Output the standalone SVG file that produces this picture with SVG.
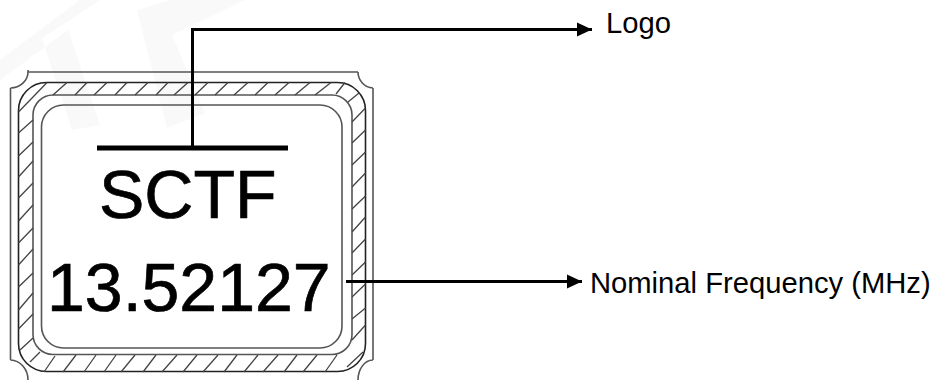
<svg xmlns="http://www.w3.org/2000/svg" width="947" height="380" viewBox="0 0 947 380">
<style>
.o{fill:none;stroke:#555;stroke-width:1.6}
.d{fill:none;stroke:#222;stroke-width:1.6}
.h{fill:none;stroke:#444;stroke-width:1.3}
.c{fill:none;stroke:#000;stroke-width:3}
text{font-family:"Liberation Sans",Arial,sans-serif;fill:#000}
.big{font-size:68px;stroke:#000;stroke-width:.7}
.lab{font-size:29.200px}
</style>
<defs><marker id="a" markerUnits="userSpaceOnUse" markerWidth="16" markerHeight="16" refX="15" refY="8" orient="auto"><path d="M0 1L15 8L0 15Z" fill="#000"/></marker></defs>
<rect width="947" height="380" fill="#fff"/>
<g fill="#f9f9f9"><path d="M0 60L80 0L100 0L42 38L72 130L100 125L68 30L0 80Z"/><path d="M137 10L167 128L205 113L172 35L245 0L170 0Z"/></g>
<g id="chip">
<path class="o" d="M28 72H358M10.500 88V360M373 88V360M28 70V72A18 16 0 0 1 10.500 88M358 72A16 16 0 0 0 373 88M10.500 360A18 20 0 0 1 28 380M373 360A15 20 0 0 0 358 380"/>
<rect class="d" x="18.500" y="82.500" width="347" height="289" rx="28"/>
<rect class="o" x="33" y="95" width="319" height="259.500" rx="20"/>
<rect class="o" x="41.500" y="105" width="300.500" height="243" rx="22"/>
<path class="h" d="M18.500 112L47 82.500M53 95L67 82.500M75 95L87 82.500M94 95L107 82.500M115 95L127 82.500M135 95L148 82.500M156 95L168 82.500M174 95L188 82.500M195 95L208 82.500M215 95L228 82.500M234 95L248 82.500M255 95L268 82.500M275 95L289 82.500M295 95L310 82.500M315 95L331 82.500M336 94L345 82.500M348 102L359 93M352 122L365.500 108M352 143L365.500 130M352 165L365.500 152M352 187L365.500 173M352 209L365.500 196M352 232L365.500 217M352 253L365.500 239M352 275L365.500 262M352 297L365.500 284M352 319L365.500 308M352 340L365.500 325M347 367L363 352"/>
<path class="h" d="M18.500 133L33 120M18.500 156L33 142M18.500 177L33 161M18.500 198L33 183M18.500 221L33 205M18.500 243L33 228M18.500 265L33 249M18.500 287L33 273M18.500 310L33 293M18.500 329L33 314M20 350L33 338M30 362L40 352M44 372L55 356M63 372L76 355M84 372L96 355M104 372L116 355M121 372L135 355M143 372L156 355M162 372L177 355M183 372L197 355M203 372L218 355M224 372L237 355M244 372L258 355M263 372L278 355M284 372L297 355M303 372L317 355M325 372L337 355"/>
<text class="big" x="99" y="218">SCTF</text>
<text class="big" x="47" y="311">13.52127</text>
</g>
<g id="connectors">
<rect x="97" y="145.500" width="191" height="5" fill="#000"/>
<path class="c" d="M192.500 148V29.500H592" marker-end="url(#a)"/>
<path class="c" d="M346 281.500H582" marker-end="url(#a)"/>
</g>
<g id="logo-label"><text class="lab" x="606" y="33">Logo</text></g>
<g id="freq-label"><text class="lab" x="590" y="293">Nominal Frequency (MHz)</text></g>
</svg>
